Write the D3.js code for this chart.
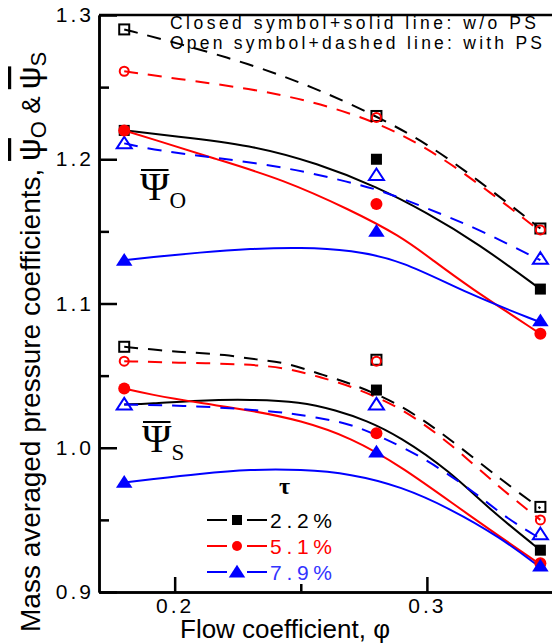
<!DOCTYPE html>
<html>
<head>
<meta charset="utf-8">
<script src="https://cdn.jsdelivr.net/npm/d3@7"></script>
<style>
  body { margin: 0; background: #fff; }
</style>
</head>
<body>
<div id="chart"></div>
<script>
const phiPts = [0.18, 0.28, 0.345];

// psi_O, closed = w/o PS, open = with PS
const oClosed22 = [1.220, 1.200, 1.110];
const oClosed51 = [1.220, 1.169, 1.079];
const oClosed79 = [1.130, 1.150, 1.088];
const oOpen22 = [1.290, 1.230, 1.152];
const oOpen51 = [1.261, 1.229, 1.151];
const oOpen79 = [1.211, 1.189, 1.131];

// psi_S (first black closed point not visible in the figure)
const sClosed22 = [null, 1.040, 0.929];
const sClosed51 = [1.041, 1.010, 0.920];
const sClosed79 = [0.976, 0.997, 0.918];
const sOpen22 = [1.070, 1.061, 0.959];
const sOpen51 = [1.060, 1.060, 0.950];
const sOpen79 = [1.030, 1.030, 0.940];

// fitted curves [phi, value]
const oSolid22 = [[0.18,1.220],[0.20,1.216],[0.23,1.210],[0.257,1.197],[0.28,1.181],[0.30,1.163],[0.32,1.142],[0.345,1.110]];
const oSolid51 = [[0.18,1.220],[0.19,1.2146],[0.2167,1.200],[0.2429,1.186],[0.2695,1.165],[0.2893,1.147],[0.3024,1.130],[0.3158,1.1125],[0.345,1.079]];
const oSolid79 = [[0.18,1.130],[0.19,1.132],[0.21,1.1354],[0.23,1.138],[0.25,1.139],[0.27,1.137],[0.29,1.130],[0.3158,1.107],[0.345,1.087]];
const oDash22 = [[0.18,1.290],[0.20,1.281],[0.23,1.266],[0.255,1.250],[0.28,1.230],[0.30,1.211],[0.32,1.186],[0.345,1.152]];
const oDash51 = [[0.18,1.261],[0.20,1.256],[0.23,1.249],[0.255,1.240],[0.28,1.226],[0.30,1.208],[0.32,1.184],[0.345,1.150]];
const oDash79 = [[0.18,1.211],[0.193,1.206],[0.2167,1.201],[0.2456,1.194],[0.2695,1.184],[0.2826,1.178],[0.30,1.166],[0.32,1.152],[0.345,1.130]];

const sSolid22 = [[0.18,1.030],[0.19,1.0305],[0.21,1.033],[0.23,1.0335],[0.25,1.032],[0.264,1.026],[0.276,1.019],[0.289,1.008],[0.309,0.984],[0.325,0.957],[0.345,0.929]];
const sSolid51 = [[0.18,1.041],[0.19,1.037],[0.21,1.031],[0.23,1.026],[0.25,1.019],[0.27,1.007],[0.29,0.987],[0.316,0.954],[0.345,0.919]];
const sSolid79 = [[0.18,0.976],[0.19,0.978],[0.21,0.982],[0.23,0.985],[0.25,0.985],[0.27,0.982],[0.29,0.973],[0.309,0.958],[0.329,0.938],[0.345,0.917]];
const sDash22 = [[0.18,1.070],[0.195,1.0674],[0.206,1.066],[0.22,1.0646],[0.2325,1.061],[0.2445,1.059],[0.2575,1.051],[0.2695,1.045],[0.29,1.030],[0.31,1.005],[0.33,0.977],[0.345,0.958]];
const sDash51 = [[0.18,1.060],[0.20,1.059],[0.23,1.058],[0.245,1.055],[0.2575,1.049],[0.2695,1.043],[0.29,1.028],[0.31,1.002],[0.329,0.972],[0.345,0.950]];
const sDash79 = [[0.18,1.030],[0.21,1.029],[0.2325,1.026],[0.2444,1.0243],[0.2563,1.021],[0.2695,1.0167],[0.2826,1.007],[0.30,0.992],[0.3198,0.968],[0.3317,0.951],[0.345,0.937]];

const tauLabels = ['2.2%', '5.1%', '7.9%'];
const yTicks = [0.9, 1.0, 1.1, 1.2, 1.3];
const yMinor = [0.95, 1.05, 1.15, 1.25];
const xTicks = [0.2, 0.3];
const xMinor = [0.25];

const COLORS = ['#000000', '#ff0000', '#0000ff'];
const SHAPES = ['square', 'circle', 'triangle'];
const SANS = '"Liberation Sans", Arial, sans-serif';
const SERIF = '"Liberation Serif", "Times New Roman", serif';

const W = 552, H = 644;
const pad = {l: 99, r: -1, t: 15, b: 52};

const svg = d3.select('#chart').append('svg')
  .attr('width', W).attr('height', H)
  .style('font-family', SANS);

const x = d3.scaleLinear().domain([0.17, 0.35]).range([pad.l, W - pad.r]);
const y = d3.scaleLinear().domain([0.9, 1.3]).range([H - pad.b, pad.t]);

const line = d3.line()
  .x(d => x(d[0])).y(d => y(d[1]))
  .curve(d3.curveBasis);

const groups = [
  {closed: [oClosed22, oClosed51, oClosed79], open: [oOpen22, oOpen51, oOpen79],
   solid: [oSolid22, oSolid51, oSolid79], dash: [oDash22, oDash51, oDash79]},
  {closed: [sClosed22, sClosed51, sClosed79], open: [sOpen22, sOpen51, sOpen79],
   solid: [sSolid22, sSolid51, sSolid79], dash: [sDash22, sDash51, sDash79]},
];

const plot = svg.append('g');

// lines
groups.forEach(g => {
  [0, 1, 2].forEach(i => {
    plot.append('path').datum(g.dash[i])
      .attr('d', line).attr('fill', 'none')
      .attr('stroke', COLORS[i]).attr('stroke-width', 2)
      .attr('stroke-dasharray', '14,10');
    plot.append('path').datum(g.solid[i])
      .attr('d', line).attr('fill', 'none')
      .attr('stroke', COLORS[i]).attr('stroke-width', 2);
  });
});

// marker helper
function marker(sel, shape, filled, color, cx, cy, s) {
  let m;
  if (shape === 'square') {
    m = sel.append('rect')
      .attr('x', cx - s / 2).attr('y', cy - s / 2)
      .attr('width', s).attr('height', s);
  } else if (shape === 'circle') {
    m = sel.append('circle').attr('cx', cx).attr('cy', cy).attr('r', s / 2);
  } else {
    const w = s * 1.5, h = s * 1.1;
    m = sel.append('path')
      .attr('d', `M${cx},${cy - h * 0.6}L${cx + w / 2},${cy + h * 0.45}L${cx - w / 2},${cy + h * 0.45}Z`);
  }
  if (filled) {
    m.attr('fill', color).attr('stroke', 'none');
  } else {
    m.attr('fill', 'none').attr('stroke', color).attr('stroke-width', 2);
  }
  return m;
}

groups.forEach(g => {
  [0, 1, 2].forEach(i => {
    g.open[i].forEach((v, j) => {
      if (v != null) marker(plot, SHAPES[i], false, COLORS[i], x(phiPts[j]), y(v), i === 1 ? 9 : 10);
    });
  });
  [0, 1, 2].forEach(i => {
    g.closed[i].forEach((v, j) => {
      if (v != null) marker(plot, SHAPES[i], true, COLORS[i], x(phiPts[j]), y(v), i === 1 ? 12 : 11);
    });
  });
});

// axes
svg.append('g').attr('transform', `translate(${pad.l},0)`)
  .call(d3.axisLeft(y).tickValues(yTicks).tickFormat(d3.format('.1f'))
    .tickSizeInner(-18).tickSizeOuter(0).tickPadding(5));
svg.append('g').attr('transform', `translate(${pad.l},0)`)
  .call(d3.axisLeft(y).tickValues(yMinor).tickFormat('')
    .tickSizeInner(-10).tickSizeOuter(0));
svg.append('g').attr('transform', `translate(0,${H - pad.b})`)
  .call(d3.axisBottom(x).tickValues(xTicks).tickFormat(d3.format('.1f'))
    .tickSizeInner(-15).tickSizeOuter(0).tickPadding(6));
svg.append('g').attr('transform', `translate(0,${H - pad.b})`)
  .call(d3.axisBottom(x).tickValues(xMinor).tickFormat('')
    .tickSizeInner(-8).tickSizeOuter(0));
svg.selectAll('.domain').attr('stroke', '#000').attr('stroke-width', 2.5);
svg.selectAll('.tick line').attr('stroke', '#000').attr('stroke-width', 2.5);
svg.selectAll('.tick text').attr('font-size', 21).attr('fill', '#000')
  .attr('font-family', SANS).style('letter-spacing', '3px');

// top frame line
svg.append('line')
  .attr('x1', pad.l).attr('x2', W).attr('y1', pad.t).attr('y2', pad.t)
  .attr('stroke', '#000').attr('stroke-width', 2.5);

// axis titles
svg.append('text')
  .attr('x', 180).attr('y', 638).attr('font-size', 26)
  .text('Flow coefficient, \u03c6');

const yl = svg.append('text')
  .attr('transform', 'translate(40,632) rotate(-90)')
  .attr('font-size', 28);
yl.append('tspan').text('Mass averaged pressure coefficients, ');
yl.append('tspan').attr('font-size', 32).style('text-decoration', 'overline').text('\u03c8');
yl.append('tspan').attr('font-size', 22).attr('dy', 6).text('O');
yl.append('tspan').attr('dy', -6).attr('font-size', 26).text(' & ');
yl.append('tspan').attr('font-size', 32).style('text-decoration', 'overline').text('\u03c8');
yl.append('tspan').attr('font-size', 22).attr('dy', 6).text('S');

// note text
svg.append('text').attr('x', 170).attr('y', 29).attr('font-size', 17.5)
  .attr('textLength', 366).attr('lengthAdjust', 'spacing')
  .text('Closed symbol+solid line:  w/o PS');
svg.append('text').attr('x', 170).attr('y', 49).attr('font-size', 17.5)
  .attr('textLength', 372).attr('lengthAdjust', 'spacing')
  .text('Open symbol+dashed line: with PS');

// psi labels with a bar over the Psi
function psiLabel(px, py, sub) {
  const t = svg.append('text').attr('x', px).attr('y', py)
    .style('font-family', SERIF);
  const psi = t.append('tspan').attr('font-size', 40).text('\u03a8');
  t.append('tspan').attr('font-size', 23).attr('dy', 8).text(sub);
  const w = psi.node().getComputedTextLength();
  svg.append('line')
    .attr('x1', px + 1).attr('x2', px + w - 1)
    .attr('y1', py - 30).attr('y2', py - 30)
    .attr('stroke', '#000').attr('stroke-width', 2);
}
psiLabel(140, 200, 'O');
psiLabel(142, 452, 'S');

// tau legend
svg.append('text').attr('x', 279).attr('y', 494).attr('font-size', 24)
  .attr('font-weight', 'bold').style('font-family', SERIF)
  .text('\u03c4');
const leg = svg.append('g');
tauLabels.forEach((lab, i) => {
  const ly = 520 + i * 26;
  leg.append('line').attr('x1', 207).attr('x2', 267).attr('y1', ly).attr('y2', ly)
    .attr('stroke', COLORS[i]).attr('stroke-width', 2)
    .attr('stroke-dasharray', '20,20');
  marker(leg, SHAPES[i], true, COLORS[i], 237, ly, i === 2 ? 11 : 10);
  leg.append('text').attr('x', 270).attr('y', ly + 8).attr('font-size', 21)
    .attr('textLength', 62).attr('lengthAdjust', 'spacing')
    .attr('fill', i === 2 ? '#3333ff' : COLORS[i]).text(lab);
});
</script>
</body>
</html>
